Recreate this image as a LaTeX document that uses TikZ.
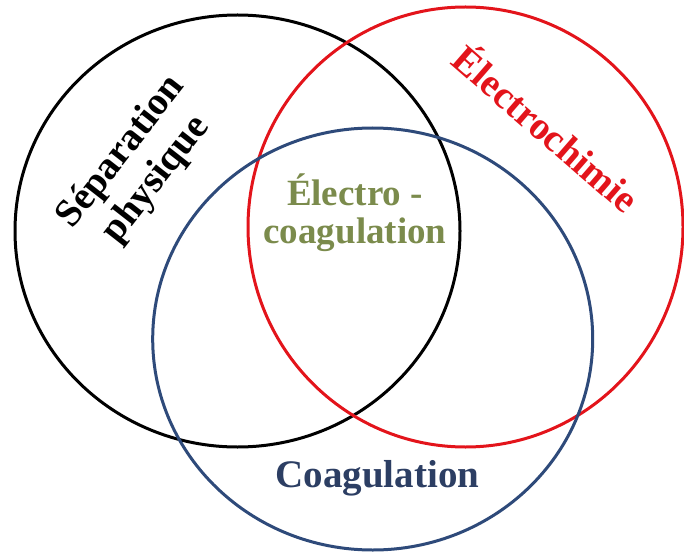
\documentclass[tikz,border=0pt]{standalone}
\usepackage{fontspec}
\setmainfont{Liberation Serif}
\usetikzlibrary{positioning}
\definecolor{vennred}{RGB}{227,20,27}
\definecolor{vennblue}{RGB}{46,74,122}
\definecolor{textblue}{RGB}{44,62,99}
\definecolor{olive}{RGB}{123,139,76}

\begin{document}
\begin{tikzpicture}[x=1pt,y=-1pt]

\tikzset{ring/.style={line width=3pt},
biglabel/.style={font=\fontsize{39}{44}\selectfont\bfseries,inner sep=0pt,align=center}}

\useasboundingbox (0,0) rectangle (684,553);

% Circles
\draw[ring,black] (237.5,231) ellipse (222.5 and 216);
\draw[ring,vennred] (465.5,227) ellipse (217.5 and 220);
\draw[ring,vennblue] (372.7,339) ellipse (220 and 211);

% Labels
\node[biglabel,rotate=52] (sep) at (139,166) {Séparation\\physique};
\node[biglabel,rotate=-41,text=vennred] (elec) at (548,127) {Électrochimie};
\node[biglabel,text=olive,font=\fontsize{37}{38}\selectfont\bfseries] (ec) at (355,213) {Électro -\\coagulation};
\node[biglabel,text=textblue] (coag) at (377.5,478) {Coagulation};

\end{tikzpicture}
\end{document}
